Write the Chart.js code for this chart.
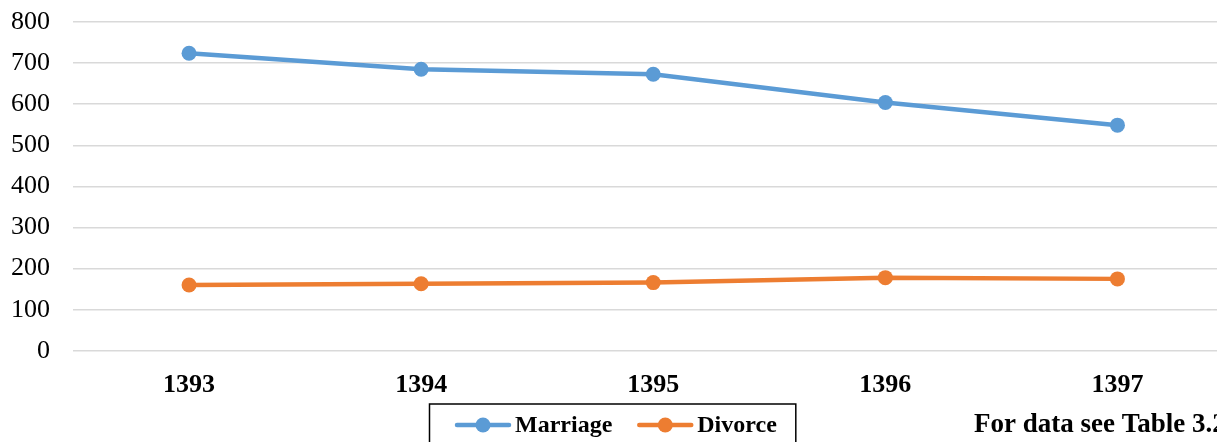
<!DOCTYPE html>
<html>
<head>
<meta charset="utf-8">
<script src="https://cdn.jsdelivr.net/npm/chart.js@4/dist/chart.umd.min.js"></script>
<style>
  html, body { margin: 0; padding: 0; background: #fff; overflow: hidden; }
  #wrap { width: 1241px; height: 442px; }
</style>
</head>
<body>
<div id="wrap"><canvas id="chart" width="1241" height="442"></canvas></div>
<script>
// Chart data
const years = ['1393', '1394', '1395', '1396', '1397'];
const marriage = [724, 685, 673, 604, 549];
const divorce = [160, 163, 166, 178, 175];
const yTicks = [0, 100, 200, 300, 400, 500, 600, 700, 800];
const note = 'For data see Table 3.2';

const blue = '#5B9BD5';
const orange = '#ED7D31';
const serif = "'Liberation Serif', 'Times New Roman', serif";

// boxed legend under the axis + the note on the right
const extras = {
  id: 'extras',
  afterDraw(chart) {
    const ctx = chart.ctx;
    const y = 425;
    let x = 455;
    ctx.save();
    ctx.font = 'bold 24px ' + serif;
    ctx.textBaseline = 'alphabetic';
    chart.data.datasets.forEach(ds => {
      ctx.strokeStyle = ds.borderColor;
      ctx.lineWidth = 4.5;
      ctx.lineCap = 'round';
      ctx.beginPath(); ctx.moveTo(x + 2, y); ctx.lineTo(x + 54, y); ctx.stroke();
      ctx.fillStyle = ds.borderColor;
      ctx.beginPath(); ctx.arc(x + 28, y, 7.5, 0, Math.PI * 2); ctx.fill();
      ctx.fillStyle = '#000';
      ctx.fillText(ds.label, x + 60, 432);
      x += 60 + ctx.measureText(ds.label).width + 25;
    });
    const right = x - 25 + 19;
    ctx.strokeStyle = '#000';
    ctx.lineWidth = 1.5;
    ctx.strokeRect(429.5, 404, right - 429.5, 60);

    ctx.font = 'bold 27px ' + serif;
    ctx.fillText(note, 974, 432);
    ctx.restore();
  }
};

new Chart(document.getElementById('chart'), {
  type: 'line',
  data: {
    labels: years,
    datasets: [
      { label: 'Marriage', data: marriage, borderColor: blue, backgroundColor: blue,
        borderWidth: 4.5, pointRadius: 7.5, pointHoverRadius: 7.5, pointBorderWidth: 0, tension: 0 },
      { label: 'Divorce', data: divorce, borderColor: orange, backgroundColor: orange,
        borderWidth: 4.5, pointRadius: 7.5, pointHoverRadius: 7.5, pointBorderWidth: 0, tension: 0 }
    ]
  },
  options: {
    responsive: false,
    animation: false,
    layout: { padding: { top: 22, left: 0, right: 0, bottom: 22 } },
    plugins: {
      tooltip: { enabled: false },
      legend: { display: false }
    },
    scales: {
      x: {
        offset: true,
        grid: { display: false, drawTicks: false },
        border: { display: false },
        ticks: { color: '#000', padding: 19, font: { family: serif, size: 26, weight: 'bold' } }
      },
      y: {
        min: 0,
        max: 800,
        afterBuildTicks(scale) { scale.ticks = yTicks.map(v => ({ value: v })); },
        afterFit(scale) {
          scale.width = 73;
          scale.paddingTop = 0;
          scale.paddingBottom = 0;
        },
        grid: { color: '#D9D9D9', lineWidth: 1.5, drawTicks: false },
        border: { display: false },
        ticks: { color: '#000', padding: 23, font: { family: serif, size: 26 } }
      }
    }
  },
  plugins: [extras]
});
</script>
</body>
</html>
